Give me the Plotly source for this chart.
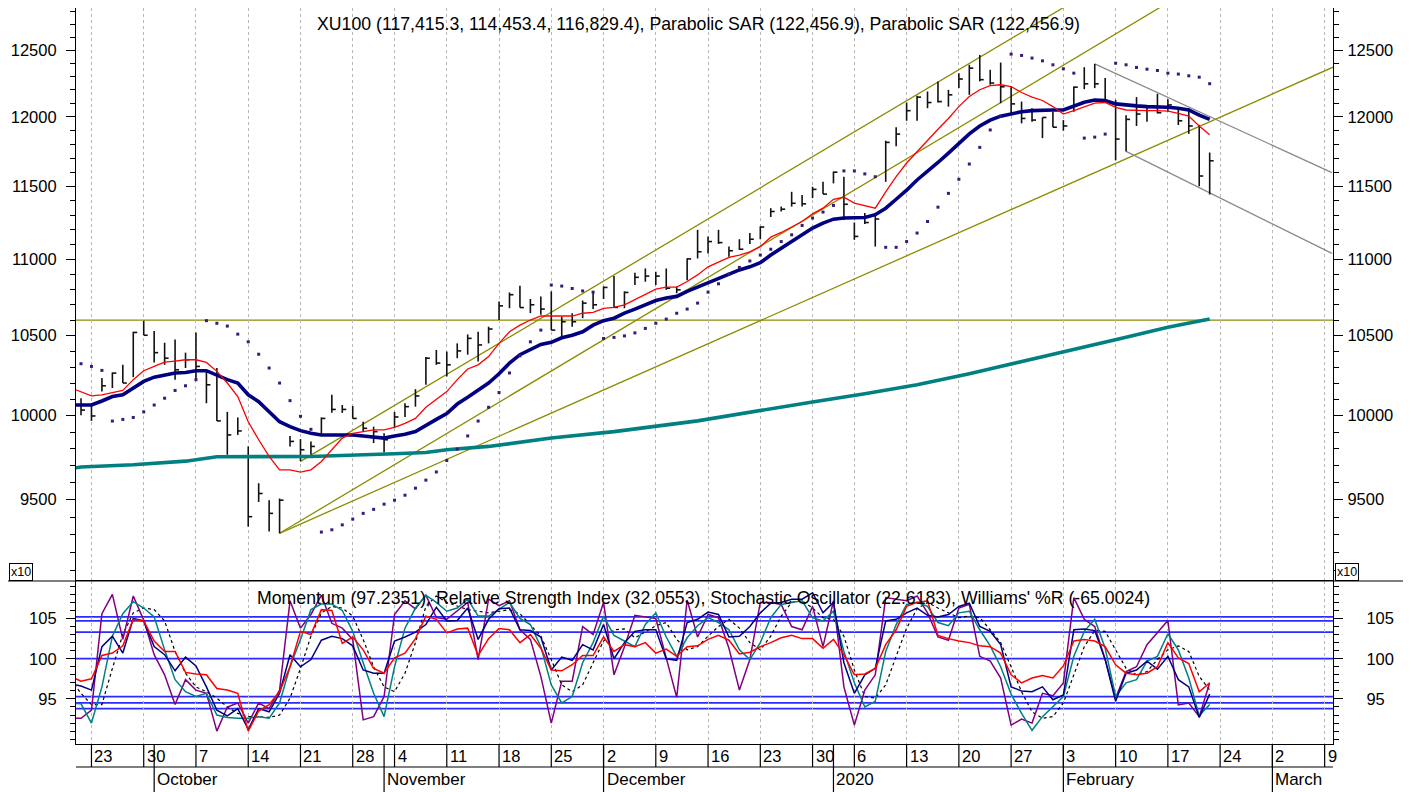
import plotly.graph_objects as go
import math

FONT = "Liberation Sans, Arial, sans-serif"

# ---------------- data (x = trading-day index, 0 = 20 Sep 2019) ----------------
bar_high = [10107, 10065, 10232, 10267, 10315, 10525, 10597, 10531, 10455, 10476,
            10392, 10521, 10274, 10295, 10023, 9989, 9814, 9596, 9497, 9507,
            9876, 9858, 9844, 9989, 10128, 10065, 10059, 9963, 9933, 9893,
            10023, 10076, 10163, 10364, 10409, 10399, 10451, 10508, 10525, 10558,
            10722, 10781, 10825, 10738, 10755, 10788, 10623, 10645, 10728, 10788,
            10820, 10889, 10788, 10911, 10940, 10918, 10940, 10820, 11009, 11201,
            11155, 11201, 11087, 11137, 11179, 11225, 11350, 11361, 11464, 11442,
            11499, 11534, 11606, 11570, 11251, 11316, 11316, 11827, 11925, 12106,
            12156, 12188, 12263, 12200, 12325, 12388, 12463, 12350, 12405, 12225,
            12113, 12064, 11996, 12038, 11977, 12225, 12370, 12395, 12288, 12126,
            12013, 12146, 12076, 12171, 12131, 12051, 12064, 11941, 11742]
bar_low = [10002, 9968, 10148, 10170, 10201, 10238, 10503, 10330, 10315, 10222,
           10295, 10222, 10076, 9968, 9764, 9883, 9345, 9487, 9317, 9307,
           9814, 9725, 9764, 9883, 10017, 10017, 9983, 9903, 9834, 9778,
           9929, 9992, 10055, 10190, 10315, 10242, 10357, 10379, 10336, 10451,
           10601, 10678, 10682, 10646, 10635, 10536, 10492, 10558, 10613, 10672,
           10738, 10683, 10678, 10830, 10852, 10830, 10798, 10776, 10862, 11007,
           11041, 11105, 11018, 11064, 11105, 11137, 11289, 11327, 11361, 11361,
           11420, 11448, 11523, 11269, 11133, 11241, 11087, 11534, 11787, 11972,
           11972, 12064, 12106, 12076, 12213, 12163, 12263, 12238, 12101, 12013,
           11953, 11965, 11846, 11925, 11900, 12038, 12205, 12213, 12106, 11687,
           11750, 11934, 11965, 12026, 12038, 11941, 11877, 11503, 11445]
bar_close = [10034, 9998, 10184, 10263, 10201, 10521, 10503, 10392, 10357, 10284,
             10347, 10305, 10190, 9968, 9883, 9907, 9402, 9536, 9421, 9497,
             9844, 9794, 9814, 9983, 10038, 10038, 9983, 9923, 9903, 9854,
             9992, 10055, 10121, 10357, 10326, 10315, 10403, 10483, 10441, 10543,
             10693, 10766, 10682, 10700, 10672, 10536, 10590, 10590, 10711, 10700,
             10814, 10683, 10781, 10881, 10889, 10889, 10809, 10798, 11004, 11052,
             11121, 11114, 11059, 11069, 11137, 11220, 11327, 11343, 11384, 11380,
             11481, 11448, 11602, 11377, 11156, 11251, 11275, 11815, 11875, 12046,
             12146, 12106, 12113, 12163, 12281, 12363, 12276, 12251, 12223, 12096,
             11989, 11977, 11996, 11925, 11934, 12220, 12245, 12245, 12118, 11839,
             11982, 12021, 12071, 12031, 12088, 11972, 11934, 11575, 11683]
sar = [10322, 10305, 10280, 9967, 9977, 9989, 10023, 10065, 10107, 10155,
       10184, 10222, 10597, 10580, 10562, 10510, 10461, 10382, 10295, 10201,
       10092, 9996, 9917, 9314, 9327, 9355, 9388, 9421, 9444, 9474,
       9497, 9526, 9567, 9614, 9662, 9730, 9798, 9877, 9967, 10051,
       10142, 10264, 10372, 10461, 10536, 10830, 10823, 10807, 10791, 10783,
       10482, 10489, 10499, 10518, 10547, 10580, 10607, 10645, 10672, 10711,
       10783, 10838, 10902, 10947, 10990, 11030, 11069, 11121, 11167, 11231,
       11282, 11323, 11369, 11611, 11611, 11590, 11570, 11082, 11082, 11121,
       11179, 11258, 11357, 11453, 11552, 11660, 11779, 11905, 12006, 12469,
       12459, 12439, 12418, 12388, 12358, 12325, 11846, 11853, 11875, 12400,
       12388, 12368, 12355, 12345, 12325, 12318, 12305, 12295, 12246]

line_idx = list(range(-1, 109))
ma_fast = [10172, 10148, 10121, 10128, 10142, 10155, 10222, 10278, 10305, 10332, 10339,
           10347, 10347, 10330, 10274, 10201, 10117, 9963, 9854, 9754, 9675,
           9675, 9661, 9675, 9724, 9794, 9864, 9893, 9903, 9913, 9913,
           9929, 9953, 9983, 10051, 10101, 10148, 10222, 10289, 10315, 10367,
           10451, 10525, 10568, 10601, 10627, 10627, 10627, 10627, 10645, 10651,
           10677, 10683, 10700, 10733, 10766, 10803, 10816, 10816, 10853, 10897,
           10951, 10984, 11014, 11030, 11052, 11087, 11151, 11183, 11220, 11258,
           11311, 11350, 11412, 11426, 11385, 11366, 11350, 11464, 11570, 11667,
           11750, 11834, 11910, 11989, 12076, 12151, 12201, 12231, 12238, 12225,
           12180, 12146, 12121, 12076, 12021, 12046, 12071, 12101, 12106, 12071,
           12051, 12046, 12046, 12046, 12043, 12026, 12006, 11934, 11870]
ma_slow = [10065, 10065, 10065, 10090, 10117, 10128, 10170, 10211, 10238, 10253, 10264,
           10267, 10278, 10278, 10247, 10222, 10201, 10128, 10086, 10023, 9963,
           9933, 9909, 9893, 9883, 9883, 9883, 9883, 9877, 9870, 9864,
           9877, 9887, 9903, 9943, 9977, 10013, 10071, 10113, 10155, 10201,
           10259, 10326, 10379, 10411, 10444, 10458, 10487, 10503, 10525, 10568,
           10597, 10613, 10646, 10672, 10700, 10728, 10744, 10755, 10788, 10816,
           10846, 10875, 10903, 10930, 10951, 10978, 11030, 11076, 11121, 11167,
           11213, 11247, 11274, 11282, 11282, 11286, 11305, 11350, 11412, 11475,
           11547, 11606, 11671, 11738, 11810, 11877, 11934, 11977, 12006, 12021,
           12038, 12046, 12051, 12051, 12051, 12081, 12108, 12124, 12121, 12096,
           12086, 12081, 12076, 12076, 12071, 12064, 12051, 12013, 11982]
ma_long_idx = [-1, 0, 5, 10, 13, 22, 30, 33, 35, 39, 45, 51, 59, 65, 70, 75, 80, 85, 90, 95, 100, 104, 108]
ma_long = [9683, 9691, 9705, 9726, 9752, 9754, 9770, 9778, 9794, 9814, 9864, 9903, 9968,
           10034, 10084, 10134, 10190, 10259, 10334, 10409, 10490, 10555, 10607]

olive_x0 = [21, 19, 19]
olive_p0 = [9725, 9307, 9307]
olive_x1 = [110, 110, 119.8]
olive_p1 = [13631, 13164, 12370]
grey_x0 = [97, 100]
grey_p0 = [12395, 11750]
grey_x1 = [119.7, 119.7]
grey_p1 = [11599, 11041]
level_price = 10600

rsi = [97.8, 97.2, 97.5, 100.4, 100.7, 101.6, 104.9, 104.7, 102.2, 100.9, 100.9, 98.3, 98.1, 98.0, 96.3, 96.1,
       95.7, 91.0, 93.5, 94.3, 95.9, 99.0, 103.4, 103.0, 106.1, 106.0, 101.9, 102.7, 101.1, 98.8, 98.2,
       100.1, 100.7, 102.5, 105.3, 104.9, 103.2, 103.7, 103.8, 100.4, 102.5,
       103.75, 103.6, 102.0, 103.0, 101.3, 98.6, 98.5, 99.25, 100.4, 100.4,
       102.7, 100.9, 101.75, 101.5, 102.0, 100.7, 101.2, 100.3, 101.5, 101.6,
       102.4, 102.9, 102.3, 100.6, 100.8, 101.5, 102.0, 102.6, 102.9, 102.5,
       102.5, 101.3, 102.4, 100.5, 98.0, 98.1, 98.8, 101.75, 103.6, 106.5,
       107.0, 107.2, 102.9, 102.5, 102.2, 102.0, 101.6, 101.5, 100.7, 98.0,
       97.0, 97.6, 97.9, 97.6, 99.1, 102.2, 102.4, 102.2, 101.5, 99.25,
       98.2, 98.0, 98.2, 99.0, 102.0, 100.1, 99.4, 95.9, 97.0]
momentum = [96.9, 96.6, 96.1, 101.5, 102.8, 100.7, 105.0, 104.7, 101.5, 100.5, 98.5, 100.2, 99.1, 96.5, 93.6, 92.9,
            93.8, 91.2, 93.8, 93.4, 95.7, 100.5, 99.0, 99.9, 102.3, 102.8, 102.5, 101.6, 98.6, 98.2, 98.2,
            102.2, 102.7, 103.3, 104.25, 106.4, 104.7, 104.75, 106.3, 102.4, 104.9,
            106.2, 106.3, 103.6, 103.5, 102.7, 98.6, 100.2, 99.8, 101.75, 101.1,
            104.25, 100.0, 102.0, 103.4, 103.6, 103.6, 100.0, 99.8, 104.5, 104.9,
            105.8, 105.5, 102.7, 102.8, 104.0, 105.7, 106.9, 107.0, 107.4, 107.4,
            108.2, 105.7, 107.0, 99.5, 95.7, 98.0, 98.8, 104.7, 104.9, 105.7,
            106.3, 105.4, 105.2, 105.5, 106.5, 106.9, 104.0, 103.4, 101.75, 96.5,
            96.0, 95.9, 96.5, 94.9, 95.5, 103.6, 103.7, 103.5, 99.9, 94.7,
            98.2, 98.6, 99.7, 98.7, 100.3, 97.4, 96.5, 92.7, 95.6]
stoch_k = [94.5, 94.4, 92.0, 96.5, 102.8, 105.6, 107.1, 106.3, 105.2, 101.1, 97.4, 95.9, 95.3, 95.7, 93.0, 92.7,
           92.6, 92.6, 92.8, 92.6, 94.5, 99.0, 102.4, 106.1, 106.8, 106.8, 106.0, 103.4, 99.5, 95.7, 92.8,
           99.0, 103.8, 106.3, 107.9, 107.0, 105.9, 106.3, 107.4, 105.3, 105.3,
           106.1, 107.0, 105.0, 104.25, 101.5, 96.75, 94.5, 95.3, 99.5, 102.0,
           105.3, 102.9, 102.2, 101.5, 104.25, 105.7, 102.7, 100.3, 102.6, 104.1,
           105.1, 104.5, 103.6, 101.1, 99.9, 102.0, 105.1, 106.75, 107.0, 107.2,
           105.1, 104.7, 105.9, 100.9, 97.0, 94.0, 94.7, 100.9, 104.25, 106.75,
           107.0, 106.5, 104.5, 104.1, 105.7, 105.9, 103.6, 101.6, 99.0, 95.6,
           93.2, 91.1, 92.8, 94.0, 95.3, 100.3, 103.4, 104.9, 101.3, 95.3,
           97.0, 97.4, 99.7, 100.3, 103.1, 101.1, 97.6, 92.9, 94.3]
stoch_d = [97.4, 95.7, 94.3, 94.3, 98.8, 103.0, 105.7, 106.3, 106.1, 104.7, 100.9, 98.2, 96.5, 95.9, 95.1, 94.0,
           93.2, 92.8, 92.8, 92.7, 93.0, 95.1, 98.8, 102.8, 105.7, 106.5, 106.3, 105.3, 102.4, 99.0, 96.5,
           95.9, 98.2, 102.0, 106.5, 107.8, 107.0, 106.5, 106.1, 105.9, 105.7,
           105.9, 106.1, 105.6, 104.25, 102.8, 99.9, 96.75, 95.9, 96.75, 99.5,
           102.2, 103.6, 103.7, 102.6, 103.4, 104.1, 104.5, 102.4, 101.1, 101.5,
           102.8, 104.0, 104.9, 103.8, 102.0, 101.1, 102.8, 105.3, 107.0, 107.2,
           106.3, 105.1, 104.9, 102.8, 98.6, 95.3, 95.1, 96.75, 100.3, 103.8,
           106.2, 107.0, 106.3, 105.7, 105.1, 105.3, 105.1, 103.6, 102.0, 99.0,
           95.9, 93.4, 92.6, 92.8, 94.5, 98.0, 101.5, 103.5, 103.4, 101.1,
           98.8, 98.0, 98.4, 99.9, 101.1, 101.6, 100.9, 97.8, 96.1]
williams = [92.6, 92.6, 93.6, 105.6, 108.0, 102.4, 107.8, 104.8, 100.5, 98.0, 94.3, 97.4, 96.1, 95.7, 91.0, 94.0,
            94.5, 92.0, 94.5, 93.8, 96.1, 107.2, 103.8, 105.5, 107.9, 104.4, 103.8, 102.4, 92.4, 92.8, 95.3,
            105.5, 107.2, 106.2, 107.9, 105.1, 104.9, 105.9, 107.0, 99.9, 107.4,
            106.6, 107.2, 103.6, 102.4, 97.8, 92.0, 97.2, 97.2, 104.0, 103.0,
            107.0, 98.0, 101.5, 105.4, 105.2, 105.0, 100.1, 95.2, 107.3, 102.7,
            105.5, 105.1, 101.3, 96.1, 99.9, 107.0, 107.0, 106.75, 104.0, 103.6,
            106.5, 101.5, 107.2, 96.5, 91.75, 96.1, 98.0, 107.6, 107.4, 107.2,
            107.8, 105.7, 102.7, 102.3, 106.3, 106.75, 100.3, 99.7, 97.6, 91.75,
            92.5, 92.0, 95.7, 95.4, 97.0, 107.6, 104.9, 104.0, 99.9, 95.1,
            98.4, 99.0, 101.75, 103.2, 104.75, 94.25, 94.5, 92.8, 97.0]
osc_levels = [105.2, 104.7, 103.3, 100.0, 95.3, 94.5, 93.8]

week_idx = [1, 6, 11, 16, 21, 26, 30, 35, 40, 45, 50, 55, 60, 65, 70, 74, 79, 84, 89, 94, 99, 104, 109, 114, 119]
week_lbl = ['23', '30', '7', '14', '21', '28', '4', '11', '18', '25', '2', '9', '16', '23', '30',
            '6', '13', '20', '27', '3', '10', '17', '24', '2', '9']
month_idx = [7, 29, 50, 72, 94, 114]
month_lbl = ['October', 'November', 'December', '2020', 'February', 'March']

price_ticks = [9500, 10000, 10500, 11000, 11500, 12000, 12500]
price_minor = [v for v in range(9100, 12900, 100) if v not in price_ticks]
osc_ticks = [95, 100, 105]
osc_minor = [v for v in range(90, 110) if v not in osc_ticks]

X_RANGE = [-0.48, 119.8]
P_RANGE = [9040, 12825]
O_RANGE = [89.4, 109.66]

# ---------------- layout geometry ----------------
# The page body has an 8px margin, so the figure is drawn 8px smaller and
# every page position below is converted to figure/paper coordinates.
OFF = 8
W, H = 1411 - OFF, 792 - OFF
PLOT_L, PLOT_R, PLOT_T, PLOT_B = 76, 1333, 8, 744   # page pixels of the plot box
ML, MR, MT, MB = PLOT_L - OFF, W - (PLOT_R - OFF), PLOT_T - OFF, H - (PLOT_B - OFF)
PW, PH = W - ML - MR, H - MT - MB
SPLIT_PAGE = 581


def px(page_x):
    return (page_x - OFF - ML) / PW


def py(page_y):
    return (H - MB - (page_y - OFF)) / PH


split = py(SPLIT_PAGE)

fig = go.Figure()

# trend lines
for x0, p0, x1, p1 in zip(olive_x0, olive_p0, olive_x1, olive_p1):
    fig.add_trace(go.Scatter(x=[x0, x1], y=[p0, p1], mode='lines',
                             line=dict(color='#8c8c00', width=1.3), hoverinfo='skip'))
for x0, p0, x1, p1 in zip(grey_x0, grey_p0, grey_x1, grey_p1):
    fig.add_trace(go.Scatter(x=[x0, x1], y=[p0, p1], mode='lines',
                             line=dict(color='#8a8a8a', width=1.3), hoverinfo='skip'))

# HLC bars
bx, by = [], []
for i, (h, l, c) in enumerate(zip(bar_high, bar_low, bar_close)):
    bx += [i, i, None, i, i + 0.38, None]
    by += [l, h, None, c, c, None]
fig.add_trace(go.Scatter(x=bx, y=by, mode='lines', line=dict(color='#111111', width=1.6),
                         hoverinfo='skip', connectgaps=False))

# moving averages
fig.add_trace(go.Scatter(x=ma_long_idx, y=ma_long, mode='lines',
                         line=dict(color='#008080', width=3.6), hoverinfo='skip'))
fig.add_trace(go.Scatter(x=line_idx, y=ma_slow, mode='lines',
                         line=dict(color='#000080', width=3.6), hoverinfo='skip'))
fig.add_trace(go.Scatter(x=line_idx, y=ma_fast, mode='lines',
                         line=dict(color='#ff0000', width=1.3), hoverinfo='skip'))
# parabolic SAR
fig.add_trace(go.Scatter(x=list(range(len(sar))), y=sar, mode='markers',
                         marker=dict(symbol='square', size=3, color='#3a1a78', line=dict(width=0)),
                         hoverinfo='skip'))
# right axis helper
fig.add_trace(go.Scatter(x=[0], y=[10000], yaxis='y3', mode='markers',
                         marker=dict(opacity=0), hoverinfo='skip'))

# oscillators
fig.add_trace(go.Scatter(x=line_idx, y=stoch_d, xaxis='x2', yaxis='y2', mode='lines',
                         line=dict(color='#000000', width=1.2, dash='dot'), hoverinfo='skip'))
fig.add_trace(go.Scatter(x=line_idx, y=williams, xaxis='x2', yaxis='y2', mode='lines',
                         line=dict(color='#800080', width=1.5), hoverinfo='skip'))
fig.add_trace(go.Scatter(x=line_idx, y=stoch_k, xaxis='x2', yaxis='y2', mode='lines',
                         line=dict(color='#008080', width=1.5), hoverinfo='skip'))
fig.add_trace(go.Scatter(x=line_idx, y=momentum, xaxis='x2', yaxis='y2', mode='lines',
                         line=dict(color='#000080', width=1.5), hoverinfo='skip'))
fig.add_trace(go.Scatter(x=line_idx, y=rsi, xaxis='x2', yaxis='y2', mode='lines',
                         line=dict(color='#ff0000', width=1.5), hoverinfo='skip'))
fig.add_trace(go.Scatter(x=[0], y=[100], xaxis='x2', yaxis='y4', mode='markers',
                         marker=dict(opacity=0), hoverinfo='skip'))

shapes = []
shapes.append(dict(type='line', xref='x domain', x0=0, x1=1, yref='y', y0=level_price, y1=level_price,
                   line=dict(color='#8c8c00', width=1.3), layer='below'))
for lv in osc_levels:
    shapes.append(dict(type='line', xref='x2 domain', x0=0, x1=1, yref='y2', y0=lv, y1=lv,
                       line=dict(color='#2b2bff', width=1.8), layer='below'))
# panel separator across the whole width
shapes.append(dict(type='line', xref='paper', x0=px(OFF), x1=px(1411), yref='paper', y0=split, y1=split,
                   line=dict(color='black', width=1.2)))
# date table
shapes.append(dict(type='line', xref='paper', x0=0, x1=1, yref='paper', y0=py(767), y1=py(767),
                   line=dict(color='black', width=1.2)))
for w in week_idx:
    shapes.append(dict(type='line', xref='x', x0=w, x1=w, yref='paper', y0=0, y1=py(767),
                       line=dict(color='black', width=1.2)))
for m in month_idx:
    shapes.append(dict(type='line', xref='x', x0=m, x1=m, yref='paper', y0=0, y1=py(792),
                       line=dict(color='black', width=1.2)))

ann = []
for w, t in zip(week_idx, week_lbl):
    ann.append(dict(x=w, xref='x', y=py(756), yref='paper', text=t, showarrow=False,
                    xanchor='left', yanchor='middle', xshift=1,
                    font=dict(family=FONT, size=16.5, color='black')))
for m, t in zip(month_idx, month_lbl):
    ann.append(dict(x=m, xref='x', y=py(779), yref='paper', text=t, showarrow=False,
                    xanchor='left', yanchor='middle', xshift=1,
                    font=dict(family=FONT, size=17, color='black')))
ann.append(dict(x=px(698), xref='paper', y=py(24), yref='paper', showarrow=False,
                text='XU100 (117,415.3, 114,453.4, 116,829.4), Parabolic SAR (122,456.9), Parabolic SAR (122,456.9)',
                xanchor='center', yanchor='middle', font=dict(family=FONT, size=17.7, color='black')))
ann.append(dict(x=px(703), xref='paper', y=py(598), yref='paper', showarrow=False,
                text="Momentum (97.2351), Relative Strength Index (32.0553), Stochastic Oscillator (22.6183), Williams' %R (-65.0024)",
                xanchor='center', yanchor='middle', font=dict(family=FONT, size=17.7, color='black')))
for xc in (21, 1347):
    ann.append(dict(x=px(xc), xref='paper', y=py(572), yref='paper', showarrow=False, text='x10',
                    xanchor='center', yanchor='middle', bordercolor='black', borderwidth=1, borderpad=1,
                    bgcolor='white', font=dict(family=FONT, size=12.5, color='black')))

xgrid = dict(range=X_RANGE, showgrid=True, gridcolor='#b8b8b8', griddash='dot', gridwidth=1,
             tickmode='array', tickvals=week_idx, showticklabels=False, ticks='', zeroline=False)


def price_axis(standoff):
    return dict(type='log', range=[math.log10(P_RANGE[0]), math.log10(P_RANGE[1])],
                domain=[split, 1], tickmode='array', tickvals=price_ticks,
                ticktext=[str(v) for v in price_ticks], ticks='outside', ticklen=9, tickwidth=1.2,
                tickcolor='black', showline=True, linecolor='black', linewidth=1.2, showgrid=False,
                zeroline=False, ticklabelstandoff=standoff,
                minor=dict(tickmode='array', tickvals=price_minor, ticks='outside', ticklen=5,
                           tickcolor='black', tickwidth=1.2, showgrid=False),
                tickfont=dict(family=FONT, size=16.5, color='black'))


def osc_axis(standoff):
    return dict(range=O_RANGE, domain=[0, split], tickmode='array', tickvals=osc_ticks,
                ticktext=[str(v) for v in osc_ticks], ticks='outside', ticklen=9, tickwidth=1.2,
                tickcolor='black', showline=True, linecolor='black', linewidth=1.2, showgrid=False,
                zeroline=False, ticklabelstandoff=standoff,
                minor=dict(tickmode='array', tickvals=osc_minor, ticks='outside', ticklen=5,
                           tickcolor='black', tickwidth=1.2, showgrid=False),
                tickfont=dict(family=FONT, size=16.5, color='black'))


fig.update_layout(
    width=W, height=H, margin=dict(l=ML, r=MR, t=MT, b=MB, pad=0, autoexpand=False),
    paper_bgcolor='white', plot_bgcolor='white', showlegend=False,
    xaxis=dict(xgrid, anchor='y', domain=[0, 1]),
    xaxis2=dict(xgrid, anchor='y2', domain=[0, 1], matches='x', showline=True, linecolor='black',
                linewidth=1.2, mirror=True),
    yaxis=dict(price_axis(6), anchor='x', side='left'),
    yaxis3=dict(price_axis(1), anchor='x', side='right', overlaying='y'),
    yaxis2=dict(osc_axis(6), anchor='x2', side='left'),
    yaxis4=dict(osc_axis(20), anchor='x2', side='right', overlaying='y2'),
    shapes=shapes, annotations=ann,
)

fig.write_html("out.html")
